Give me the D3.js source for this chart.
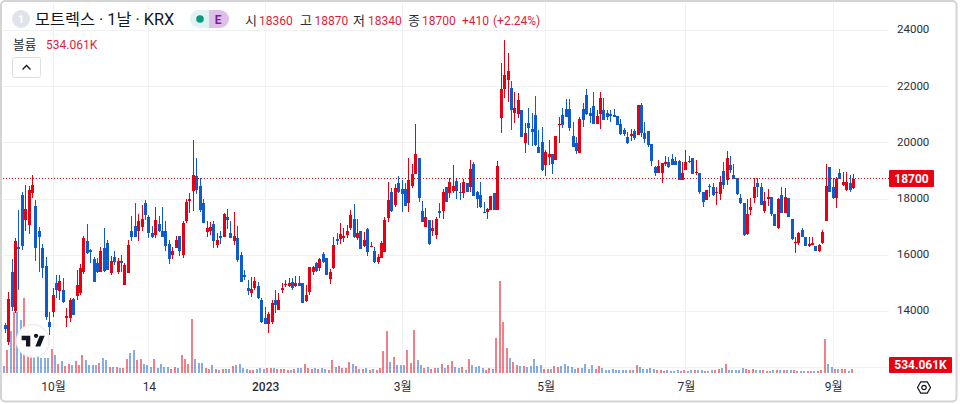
<!DOCTYPE html>
<html>
<head>
<meta charset="utf-8">
<script src="https://cdn.jsdelivr.net/npm/d3@7"></script>
<style>
  html, body { margin: 0; padding: 0; background: #fff; }
  text { font-family: Roboto, "Noto Sans CJK KR", sans-serif; }
</style>
</head>
<body>
<div id="chart"></div>
<script>
// daily candles
const opens = [
  13500,12890,15390,14000,16270,18130,17230,17060,18200,17730,
  16840,16240,15600,13600,13960,14990,14710,14740,13750,13750,
  14420,14530,14640,15390,16490,16170,15850,15710,15390,16240,
  16420,15350,15920,15390,15780,14920,15350,16840,17020,16840,
  16990,17840,17340,16770,16700,17090,16840,16840,16380,15990,
  16240,16670,15990,17200,17910,18270,18800,18450,17840,16810,
  16840,17090,16350,16670,16630,17340,16770,16490,16600,15990,
  15280,14810,14640,14810,14890,14390,13750,13530,13600,14390,
  14030,14740,14920,14890,15030,14890,14990,14990,14350,14670,
  15390,15710,15530,16030,15880,15140,15530,16560,16560,16600,
  16700,16950,17270,16600,16840,16310,16910,16270,16130,15740,
  15880,16100,17300,18230,17770,18550,18340,18340,17840,18450,
  18870,19440,17550,16990,17230,16840,16700,17550,17550,18410,
  18200,18270,18630,18230,18200,18550,18410,19230,18230,18130,
  17520,17520,17590,18200,17590,20870,21900,22220,21940,21050,
  21010,21150,19980,20690,20470,20970,19830,20010,19190,19480,
  19590,19370,20620,20970,21190,21190,20230,19980,19620,21190,
  21690,21050,21300,20650,21010,21150,21050,21010,20970,20940,
  20650,20440,20190,20230,20400,20260,21330,20330,20400,19940,
  19120,18910,18910,19230,19300,19410,19340,19340,18660,19020,
  19340,19440,18910,18910,18230,17950,18450,18410,18190,18160,
  18980,18660,19190,18840,18730,18020,17840,16740,17590,18020,
  18550,18410,17550,17980,18050,17450,16950,18130,17480,18020,
  17270,16420,16420,16880,16630,16310,16350,16310,16130,16420,
  17200,19120,18410,18020,18910,18480,18300,18550,18360
];
const closes = [
  13360,14420,14140,16490,16200,16310,17630,18300,18480,16240,
  16630,15530,13780,13430,14570,14740,15060,14320,13820,14390,
  13850,14920,15530,16600,16060,16100,15030,15390,16130,15420,
  15460,15780,15740,15780,15710,15630,16350,16630,16630,17200,
  17270,17410,16770,16630,17230,16840,16630,16310,15850,16130,
  16520,16130,17130,17880,17980,18840,18300,17590,17130,16950,
  16990,16490,16520,16600,17450,17230,16600,16670,15810,15030,
  15210,14710,14780,15060,14460,13600,13530,13890,14280,14210,
  14390,14810,14960,14990,14810,14990,14890,14280,14570,15560,
  15560,15420,15850,15740,15280,15390,16350,16490,16740,16670,
  16840,17410,16630,16770,16200,16520,16100,16310,15740,15920,
  16420,17230,17950,17550,18380,18230,18160,17730,18660,18870,
  19590,18020,17160,17340,16380,16950,17270,17480,18230,17880,
  18590,18450,18270,18200,18590,18230,19050,18090,17980,17700,
  17480,17630,18090,17590,19160,21900,22400,22540,21150,21220,
  21510,20190,20330,20510,20370,19910,19620,19020,19660,19590,
  19230,20230,20650,20620,20900,20510,19830,19690,20830,20800,
  21010,20940,20650,20940,21580,20800,20900,20940,20900,20620,
  20300,20300,19980,20300,20150,21330,20330,20120,19910,19340,
  18910,19160,19260,19300,19120,19190,19190,18660,18910,19300,
  19300,18870,18940,18230,17880,18300,18410,18130,18220,18590,
  18480,19440,19020,18700,18160,17840,16700,17450,17700,18410,
  18410,17770,17910,18050,17450,17020,17980,17480,18050,17340,
  16560,16450,16770,16630,16310,16380,16420,16130,16350,16810,
  18450,18230,18020,18700,18700,18590,18590,18300,18700
];
const highs = [
  13570,14670,15850,16600,17590,18230,18480,18450,18840,17950,
  16990,16380,15920,13960,14810,15280,15280,15170,14100,14460,
  14460,15460,15670,16670,17090,16200,15920,15880,16270,16950,
  16520,15950,16130,15880,15990,15710,16520,17380,17840,17450,
  17770,17950,17410,17020,17700,17380,17700,17200,16520,16270,
  16670,16670,17200,17980,18200,20080,19440,18730,17980,17200,
  17160,17200,16770,16840,17480,17630,17200,17520,17020,16100,
  15460,15100,15210,15210,15030,14460,14140,13960,14390,14740,
  14640,14990,15100,15170,15170,15240,15240,14990,14920,15560,
  15600,15740,15880,16100,15880,15490,16630,16770,17130,16950,
  17060,17590,17800,17270,16840,16810,16950,16450,16270,16030,
  16490,17340,18590,18380,18520,18800,18660,18550,19440,19230,
  20650,19440,17910,17660,17230,17230,17340,17840,18340,18410,
  18730,19190,18730,18550,18700,18550,19370,19300,18270,18590,
  17880,17660,18090,18200,19340,22820,23640,23180,22190,21790,
  21760,21150,20690,21220,21050,21650,20440,20550,19730,20080,
  19590,20230,20900,21220,21540,21540,20720,20190,20900,21400,
  21900,21220,21790,21150,21790,21580,21150,21150,21190,20940,
  20830,20510,20370,20470,20470,21330,21400,20720,20400,19940,
  19160,19370,19260,19510,19480,19590,19480,19370,19300,19730,
  19510,19440,19370,18910,18230,18300,18520,18550,18410,18800,
  19300,19690,19510,19230,18730,18160,17840,17980,18020,18730,
  18730,18550,18230,18340,18050,17450,18020,18410,18380,18020,
  17270,16630,16810,16950,16630,16630,16630,16310,16380,16880,
  19230,19120,18730,18770,19050,18940,18940,18840,18870
];
const lows = [
  13210,12790,14000,13930,14740,16170,16840,16740,18020,15780,
  15390,15170,13680,13140,13780,14460,14390,14280,13430,13600,
  13850,14390,14570,15320,16030,15710,15030,15350,15390,15390,
  15460,15280,15630,15320,15390,14920,15350,16490,16630,16490,
  16840,17230,16600,16600,16600,16810,16630,16130,15670,15850,
  16240,15950,15880,17130,17480,17550,18160,17520,17130,16630,
  16700,16240,16240,16380,16630,16910,16600,16350,15740,15030,
  15100,14570,14490,14740,14420,13570,13530,13210,13530,13930,
  14030,14640,14850,14850,14740,14850,14890,14280,14320,14570,
  15280,15390,15420,15710,15280,14960,15490,16350,16380,16450,
  16600,16880,16600,16520,16200,16270,15950,16270,15710,15670,
  15880,16100,17160,17520,17700,18200,17520,17730,17520,18380,
  18870,17880,17160,16990,16350,16670,16560,17300,17270,17880,
  18020,18200,17980,17950,18020,18230,18230,18090,17660,17660,
  17480,17270,17590,17590,17590,20330,21580,21440,20440,20690,
  20870,20190,19620,19910,19870,19870,19620,18980,18800,19190,
  18870,19370,19980,20510,20900,20400,19830,19590,19620,20550,
  20970,20690,20650,20650,20470,20800,20800,20720,20900,20620,
  20260,20230,19940,20050,20080,20260,20190,19980,19830,19160,
  18800,18910,18550,19160,19090,19190,19190,18660,18660,19020,
  19260,18870,18840,18160,17700,17950,18050,18090,17770,17950,
  18340,18480,18910,18700,18130,17800,16670,16700,17410,17840,
  18050,17770,17480,17730,17380,17020,16910,17480,17480,17340,
  16520,16060,16350,16630,16310,16270,16350,16130,16100,16380,
  17200,18230,17980,17660,18700,18450,18270,18230,18340
];
// volume in thousands
const volumes = [
  890,3030,5560,8140,8140,7030,9920,5470,4810,3030,
  2580,2050,2050,2050,3250,2360,1250,1560,890,1250,
  1110,1560,1110,2450,1780,1110,1110,1020,1340,2050,
  1690,760,760,760,620,620,1820,2670,3030,1780,
  1820,1250,1020,760,1910,670,1160,850,760,580,
  760,620,2360,1910,1200,7250,1910,1340,1380,710,
  530,1020,530,450,530,490,530,890,1020,1160,
  620,490,400,450,530,710,530,670,620,620,
  530,530,530,360,400,490,620,620,1250,620,
  580,620,530,620,530,360,1690,760,890,620,
  620,1420,1160,890,490,490,620,360,490,360,
  620,2890,5610,1420,2090,1020,1020,1020,3030,1340,
  5700,1690,1020,620,800,580,620,620,1160,620,
  1020,1560,760,670,760,450,1820,1020,760,890,
  620,450,620,490,4630,12240,6760,3290,1960,1420,
  1020,890,890,760,890,1820,890,1020,490,490,
  490,890,760,890,1160,890,760,490,620,620,
  1160,490,1020,490,890,620,360,360,490,360,
  360,360,360,360,360,1020,850,490,530,620,
  530,360,360,270,360,270,270,360,200,360,
  270,360,360,360,360,270,270,360,450,530,
  620,1250,450,450,450,450,710,530,450,530,
  450,450,360,270,270,360,360,360,450,360,
  360,360,270,270,270,270,270,270,270,360,
  4490,1250,800,580,530,530,490,270,534.061
];
const priceTicks = [14000,16000,18000,20000,22000,24000];
const timeLabels = ["10월","14","2023","3월","5월","7월","9월"];
const timeBars = [14,42,76,116,158,199,242];   // bar index of each time label
const ohlcLegend = [["시","18360"],["고","18870"],["저","18340"],["종","18700"]];

const width=960, height=404;
const upColor="#e60012", downColor="#0e5bcb", textColor="#2a2e39", legendRed="#dc1e3c";

const svg = d3.select("#chart").append("svg")
            .attr("width", width).attr("height", height)
            .attr("viewBox","0 0 960 404")
            .style("display","block");

const x = d3.scaleLinear().domain([0, opens.length-1]).range([5.2,853.6]);
const y = d3.scaleLinear().domain([14000,24000]).range([311,30]);
const yVol = d3.scaleLinear().domain([0,12240]).range([373,281]);
const last = opens.length-1;

//grid
const plotLeft=3, plotRight=889;
const grid = svg.append("g").attr("shape-rendering","crispEdges");
grid.selectAll("line.h").data(priceTicks.concat([12000])).enter().append("line")
    .attr("class","h")
    .attr("x1",plotLeft).attr("x2",plotRight)
    .attr("y1",d=>Math.round(y(d))+.5).attr("y2",d=>Math.round(y(d))+.5)
    .style("stroke","#f0f1f3");
grid.selectAll("line.v").data(timeBars).enter().append("line")
    .attr("class","v")
    .attr("x1",d=>Math.floor(x(d))+.5).attr("x2",d=>Math.floor(x(d))+.5)
    .attr("y1",3).attr("y2",374)
    .style("stroke","#f0f1f3");

//volume
svg.append("g").attr("shape-rendering","crispEdges").selectAll("rect")
    .data(volumes).enter().append("rect")
    .attr("x",(d,i)=>Math.floor(x(i))-2)
    .attr("width",2)
    .attr("y",d=>Math.round(yVol(d)))
    .attr("height",d=>373-Math.round(yVol(d)))
    .style("fill",(d,i)=>closes[i]>=opens[i]?upColor:downColor)
    .style("opacity",.5);

//candles
const candles = svg.append("g").attr("shape-rendering","crispEdges");
const idx = d3.range(opens.length);
candles.selectAll("rect.wick").data(idx).enter().append("rect")
    .attr("class","wick")
    .attr("x",i=>Math.floor(x(i)))
    .attr("width",1)
    .attr("y",i=>Math.round(y(highs[i])))
    .attr("height",i=>Math.max(1,Math.round(y(lows[i]))-Math.round(y(highs[i]))))
    .style("fill",i=>closes[i]>=opens[i]?upColor:downColor);
candles.selectAll("rect.body").data(idx).enter().append("rect")
    .attr("class","body")
    .attr("x",i=>Math.floor(x(i))-1)
    .attr("width",3)
    .attr("y",i=>Math.round(y(Math.max(opens[i],closes[i]))))
    .attr("height",i=>Math.max(1,Math.round(y(Math.min(opens[i],closes[i])))-Math.round(y(Math.max(opens[i],closes[i])))))
    .style("fill",i=>closes[i]>=opens[i]?upColor:downColor);

//last price line
svg.append("line")
    .attr("x1",plotLeft).attr("x2",plotRight)
    .attr("y1",Math.round(y(closes[last]))-.5).attr("y2",Math.round(y(closes[last]))-.5)
    .style("stroke",upColor).style("stroke-width",1)
    .style("stroke-dasharray","1,2");

//price axis
const yAxis = d3.axisRight(y).tickValues(priceTicks).tickSize(0).tickPadding(0).tickFormat(d3.format("d"));
const yg = svg.append("g").attr("transform","translate(897,-0.7)").call(yAxis);
yg.select(".domain").remove();
yg.selectAll("text").style("font-size","11.5px").style("fill",textColor).style("font-family","Roboto");

//time axis
const xAxis = d3.axisBottom(x).tickValues(timeBars).tickSize(0).tickPadding(0)
    .tickFormat((d,i)=>timeLabels[i]);
const xg = svg.append("g").attr("transform","translate(0,382)").call(xAxis);
xg.select(".domain").remove();
xg.selectAll("text").style("font-size","12px").style("fill",textColor);
xg.selectAll("text").filter(d=>d==76).style("font-weight",500);

//price tags
function tag(xPos,yPos,w,h,label){
    svg.append("rect").attr("x",xPos).attr("y",yPos).attr("width",w).attr("height",h)
        .attr("rx",1).style("fill","#ea0010");
    svg.append("text").attr("x",xPos+w/2).attr("y",yPos+h/2+4.2)
        .attr("text-anchor","middle").style("fill","#fff")
        .style("font-size","12px").style("font-weight",700).text(label);
}
tag(889,170,45,17,"18700");
tag(889,357,63,16,"534.061K");

//legend
svg.append("circle").attr("cx",21).attr("cy",19).attr("r",9).style("fill","#e0e3eb");
svg.append("text").attr("x",21).attr("y",23).attr("text-anchor","middle")
    .style("fill","#fff").style("font-size","11px").style("font-weight",700).text("1");
svg.append("text").attr("x",35).attr("y",25).style("font-size","16.3px").style("fill","#131722")
    .text("모트렉스 · 1날 · KRX");

svg.append("path").attr("d","M209 10H199a9 9 0 0 0 0 18H209Z").style("fill","#e0f3f0");
svg.append("path").attr("d","M209 10H220a9 9 0 0 1 0 18H209Z").style("fill","#dcc0e8");
svg.append("circle").attr("cx",200).attr("cy",19).attr("r",3.8).style("fill","#089981");
svg.append("text").attr("x",218).attr("y",23.5).attr("text-anchor","middle")
    .style("font-size","12px").style("font-weight",700).style("fill","#7b1fa2").text("E");

const legendX=[245,300,353,408], valueX=[259,314.5,368,422];
ohlcLegend.forEach((d,i)=>{
    svg.append("text").attr("x",legendX[i]).attr("y",25).style("font-size","13px")
        .style("fill",textColor).text(d[0]);
    svg.append("text").attr("x",valueX[i]).attr("y",25).style("font-size","12px")
        .style("fill",legendRed).text(d[1]);
});
svg.append("text").attr("x",462).attr("y",25).style("font-size","12px")
    .style("fill",legendRed).text("+410");
svg.append("text").attr("x",493).attr("y",25).style("font-size","12px")
    .style("fill",legendRed).text("(+2.24%)");

svg.append("text").attr("x",13).attr("y",49).style("font-size","12.7px")
    .style("fill",textColor).text("볼륨");
svg.append("text").attr("x",46).attr("y",49).style("font-size","12px")
    .style("fill",legendRed).text("534.061K");

//collapse button
svg.append("rect").attr("x",12.5).attr("y",57.5).attr("width",28).attr("height",20).attr("rx",2)
    .style("fill","#fff").style("stroke","#dcdee2");
svg.append("path").attr("d","M22.5 69.5l4-4 4 4").style("fill","none")
    .style("stroke","#131722").style("stroke-width",1.4);

//tradingview logo
svg.append("circle").attr("cx",32.7).attr("cy",341).attr("r",16.5)
    .style("fill","#fff").style("fill-opacity",.95).style("stroke","#e3e5e8");
svg.append("path")
    .attr("transform","translate(20.2,331.5) scale(0.72)")
    .attr("d","M14 6H2v6h6v9h6V6Zm14 15h-7l6-15h7l-6 15Zm-6-12a3 3 0 1 0 0-6 3 3 0 0 0 0 6Z")
    .style("fill","#131722");

//settings icon
svg.append("path").attr("d","M917.5 387.5l3.2-5.6h6.6l3.2 5.6-3.2 5.6h-6.6Z")
    .style("fill","none").style("stroke","#131722").style("stroke-width",1.2);
svg.append("circle").attr("cx",924).attr("cy",387.5).attr("r",2.2)
    .style("fill","none").style("stroke","#131722").style("stroke-width",1.2);

//frame
svg.append("rect").attr("x",1).attr("y",1).attr("width",955.5).attr("height",400.5).attr("rx",4)
    .style("fill","none").style("stroke","#d4d4d4").style("stroke-width",2);
</script>
</body>
</html>
